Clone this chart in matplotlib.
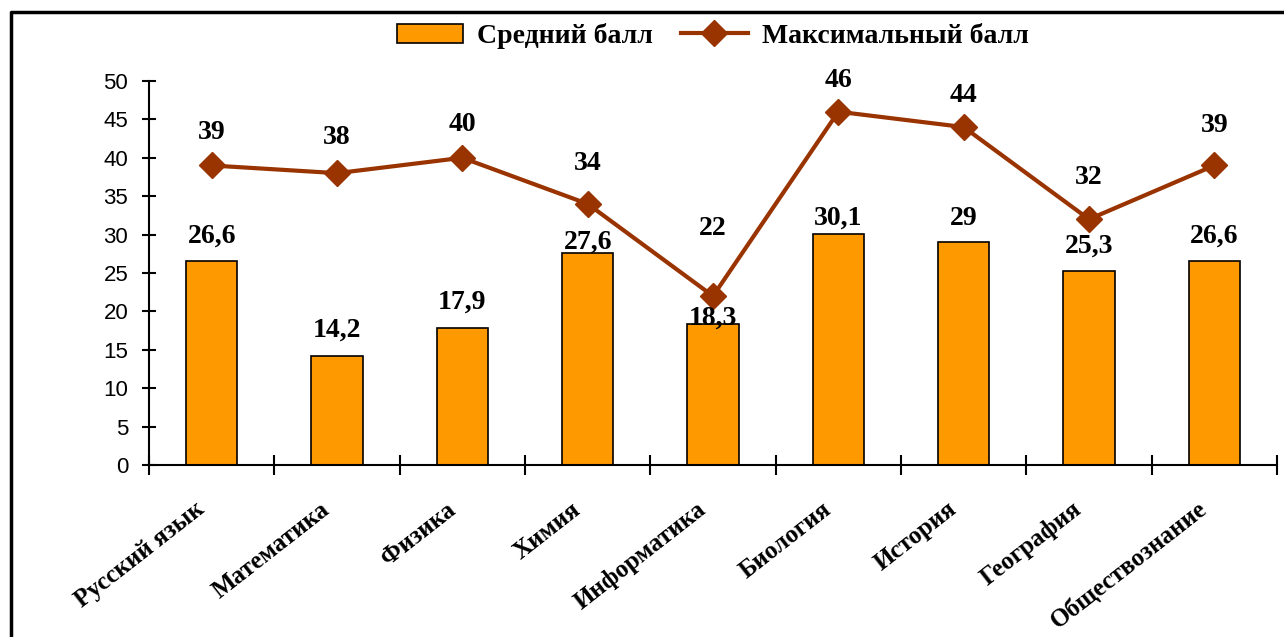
import matplotlib
matplotlib.use("Agg")
import matplotlib.pyplot as plt
import matplotlib.transforms as mtransforms
from matplotlib.lines import Line2D
import numpy as np

categories = ["Русский язык", "Математика", "Физика", "Химия", "Информатика",
              "Биология", "История", "География", "Обществознание"]
avg_scores = [26.6, 14.2, 17.9, 27.6, 18.3, 30.1, 29, 25.3, 26.6]
max_scores = [39, 38, 40, 34, 22, 46, 44, 32, 39]
avg_labels = ["26,6", "14,2", "17,9", "27,6", "18,3", "30,1", "29", "25,3", "26,6"]
max_labels = ["39", "38", "40", "34", "22", "46", "44", "32", "39"]
series_names = ["Средний балл", "Максимальный балл"]

# label offsets above the marks (pixels)
avg_off = [25, 26, 25, 11, 6, 16, 24, 25, 25]
max_off = [33, 36, 33, 40, 68, 31, 32, 42, 40]

BAR = "#FF9900"
LINE = "#993300"
SERIF = "Liberation Serif"
SANS = "Liberation Sans"

fig = plt.figure(figsize=(12.84, 6.37), dpi=100)
ax = fig.add_axes([149/1284, (637-465)/637, (1277-149)/1284, (465-81)/637])

x = np.arange(len(categories))
bars = ax.bar(x, avg_scores, width=0.41, color=BAR, edgecolor="black", linewidth=1.2,
              label=series_names[0], zorder=2)
ln, = ax.plot(x, max_scores, color=LINE, linewidth=3, marker="D", markersize=13,
              label=series_names[1], zorder=3)

for xi, v, t, o in zip(x, avg_scores, avg_labels, avg_off):
    ax.annotate(t, (xi, v), xytext=(0, o), textcoords="offset pixels",
                ha="center", va="center", fontsize=20, fontweight="bold",
                family=SERIF, zorder=4)
for xi, v, t, o in zip(x, max_scores, max_labels, max_off):
    ax.annotate(t, (xi, v), xytext=(0, o), textcoords="offset pixels",
                ha="center", va="center", fontsize=20, fontweight="bold",
                family=SERIF, zorder=4)

ax.set_xlim(-0.5, len(categories) - 0.5)
ax.set_ylim(0, 50)
ax.set_yticks(np.arange(0, 51, 5))
ax.tick_params(axis="y", direction="inout", length=10, width=1.5, pad=10, labelsize=16)
for lab in ax.get_yticklabels():
    lab.set_family(SANS)

ax.set_xticks(x)
ax.set_xticklabels(categories, rotation=38, ha="right", va="center",
                   rotation_mode="anchor", fontsize=18, fontweight="bold", family=SERIF)
ax.tick_params(axis="x", length=0, pad=30)
ax.set_xticks(np.arange(-0.5, len(categories)), minor=True)
ax.tick_params(axis="x", which="minor", direction="inout", length=14, width=1.5)

# shift category labels slightly left
offset = mtransforms.ScaledTranslation(-10/100, 0, fig.dpi_scale_trans)
for lab in ax.get_xticklabels():
    lab.set_transform(lab.get_transform() + offset)

for s in ["top", "right"]:
    ax.spines[s].set_visible(False)
for s in ["left", "bottom"]:
    ax.spines[s].set_linewidth(1.5)

fig.legend(handles=[bars, ln], labels=series_names, loc="center",
           bbox_to_anchor=(0.555, 1 - 36/637), ncol=2, frameon=False,
           prop={"family": SERIF, "weight": "bold", "size": 20},
           handlelength=2.4, handletextpad=0.5, columnspacing=1.0)

fig.add_artist(Line2D([11/1284, 11/1284, 1.0], [0, 1 - 12/637, 1 - 12/637],
                      transform=fig.transFigure, color="black", linewidth=2.5))

fig.savefig("out.png", dpi=100)
